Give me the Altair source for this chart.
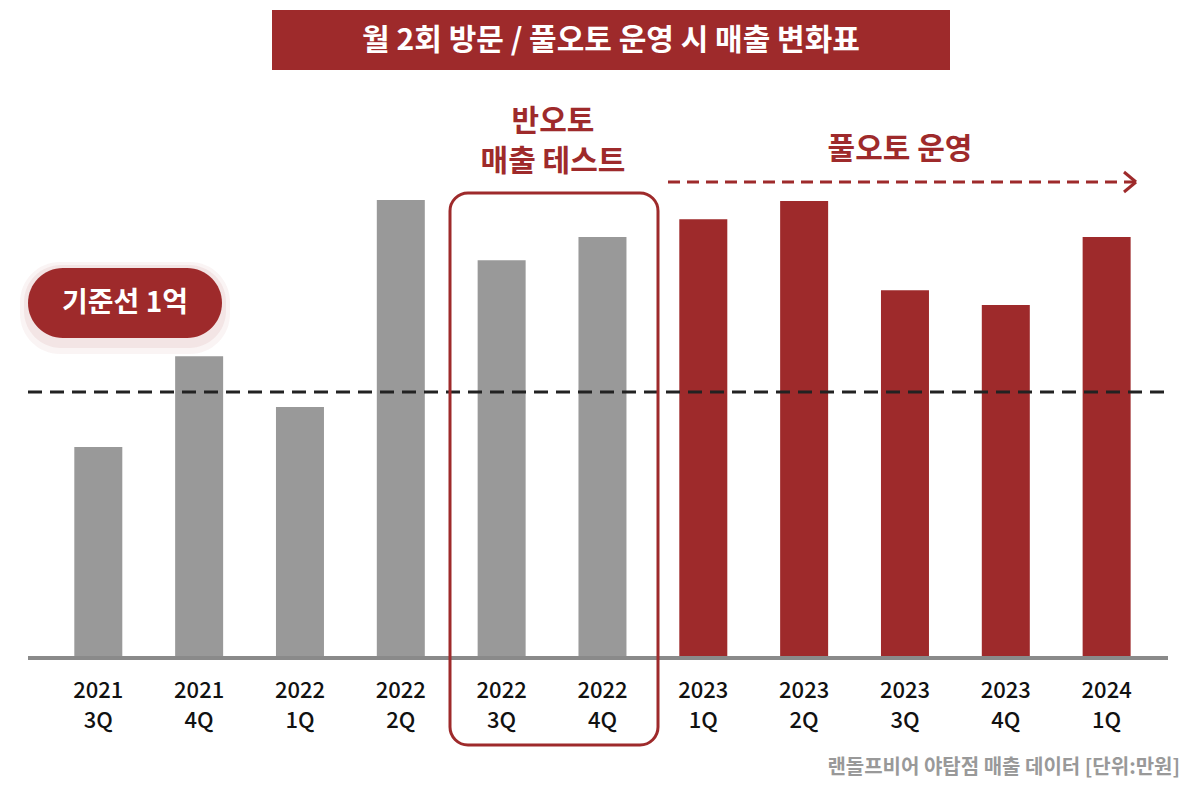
import altair as alt
import pandas as pd

years = ["2021","2021","2022","2022","2022","2022","2023","2023","2023","2023","2024"]
quarters = ["3Q","4Q","1Q","2Q","3Q","4Q","1Q","2Q","3Q","4Q","1Q"]
sales = [7930, 11350, 9440, 17220, 14960, 15830, 16500, 17180, 13830, 13270, 15830]
phase = ["기존","기존","기존","기존","반오토","반오토","풀오토","풀오토","풀오토","풀오토","풀오토"]
baseline_value = 10000

F = "Noto Sans CJK KR"
RED = "#9e2a2b"
df = pd.DataFrame({"i": list(range(len(sales))), "year": years, "q": quarters,
                   "sales": sales, "phase": phase})

xs = alt.Scale(domain=[-0.846, 10.797], nice=False, zero=False)
ys = alt.Scale(domain=[-4963, 24440], nice=False, zero=False)
X = alt.X("i:Q", scale=xs, axis=None)
W, H = 1184, 782

bars = alt.Chart(df).mark_bar(width=48).encode(
    x=X, y=alt.Y("sales:Q", scale=ys, axis=None), y2=alt.datum(0),
    color=alt.Color("phase:N", scale=alt.Scale(domain=["기존","반오토","풀오토"],
                    range=["#999999","#999999",RED]), legend=None))
lab1 = alt.Chart(df).mark_text(font=F, fontSize=22, fontWeight=500, color="#111").encode(
    x=X, y=alt.datum(-1240), text="year:N")
lab2 = alt.Chart(df).mark_text(font=F, fontSize=22, fontWeight=500, color="#111").encode(
    x=X, y=alt.datum(-2370), text="q:N")

one = pd.DataFrame({"a": [0]})
def base():
    return alt.Chart(one)

axisline = base().mark_rule(color="#8a8a8a", strokeWidth=4).encode(
    x=alt.value(20), x2=alt.value(1160), y=alt.value(650))
dash = base().mark_rule(color="#222", strokeWidth=3, strokeDash=[14, 8]).encode(
    x=alt.value(20), x2=alt.value(1160), y=alt.datum(baseline_value))

title_box = base().mark_rect(color=RED).encode(
    x=alt.value(264), x2=alt.value(942), y=alt.value(2), y2=alt.value(62))
title_txt = base().mark_text(font=F, fontSize=30, fontWeight="bold", color="white").encode(
    x=alt.value(603), y=alt.value(33), text=alt.value("월 2회 방문 / 풀오토 운영 시 매출 변화표"))

glow1 = base().mark_rect(color=RED, cornerRadius=40, opacity=0.05).encode(
    x=alt.value(12), x2=alt.value(222), y=alt.value(254), y2=alt.value(346))
glow2 = base().mark_rect(color=RED, cornerRadius=37, opacity=0.07).encode(
    x=alt.value(16), x2=alt.value(218), y=alt.value(257), y2=alt.value(340))
pill = base().mark_rect(color=RED, cornerRadius=35).encode(
    x=alt.value(20), x2=alt.value(214), y=alt.value(260), y2=alt.value(330))
pill_txt = base().mark_text(font=F, fontSize=28, fontWeight="bold", color="white").encode(
    x=alt.value(117), y=alt.value(296), text=alt.value("기준선 1억"))

box = base().mark_rect(fill=None, fillOpacity=0, stroke=RED, strokeWidth=3, cornerRadius=18).encode(
    x=alt.value(442), x2=alt.value(650), y=alt.value(185), y2=alt.value(737))
semi = base().mark_text(font=F, fontSize=30, fontWeight="bold", color=RED, lineHeight=40).encode(
    x=alt.value(545), y=alt.value(114), text=alt.value(["반오토", "매출 테스트"]))
full = base().mark_text(font=F, fontSize=30, fontWeight="bold", color=RED).encode(
    x=alt.value(892), y=alt.value(142), text=alt.value("풀오토 운영"))
arrow = base().mark_rule(color=RED, strokeWidth=3, strokeDash=[12, 7]).encode(
    x=alt.value(660), x2=alt.value(1126), y=alt.value(174))
ah1 = base().mark_rule(color=RED, strokeWidth=3).encode(
    x=alt.value(1116), x2=alt.value(1128), y=alt.value(164), y2=alt.value(174))
ah2 = base().mark_rule(color=RED, strokeWidth=3).encode(
    x=alt.value(1116), x2=alt.value(1128), y=alt.value(184), y2=alt.value(174))
src = base().mark_text(font=F, fontSize=20, fontWeight="bold", color="#999", align="right").encode(
    x=alt.value(1172), y=alt.value(760), text=alt.value("랜돌프비어 야탑점 매출 데이터 [단위:만원]"))

chart = alt.layer(bars, axisline, dash, lab1, lab2, title_box, title_txt, glow1, glow2, pill, pill_txt,
                  box, semi, full, arrow, ah1, ah2, src).properties(
    width=W, height=H, padding=0, background="white"
).configure_view(stroke=None)

chart.save("out.html", embed_options={"renderer": "svg", "actions": False})
